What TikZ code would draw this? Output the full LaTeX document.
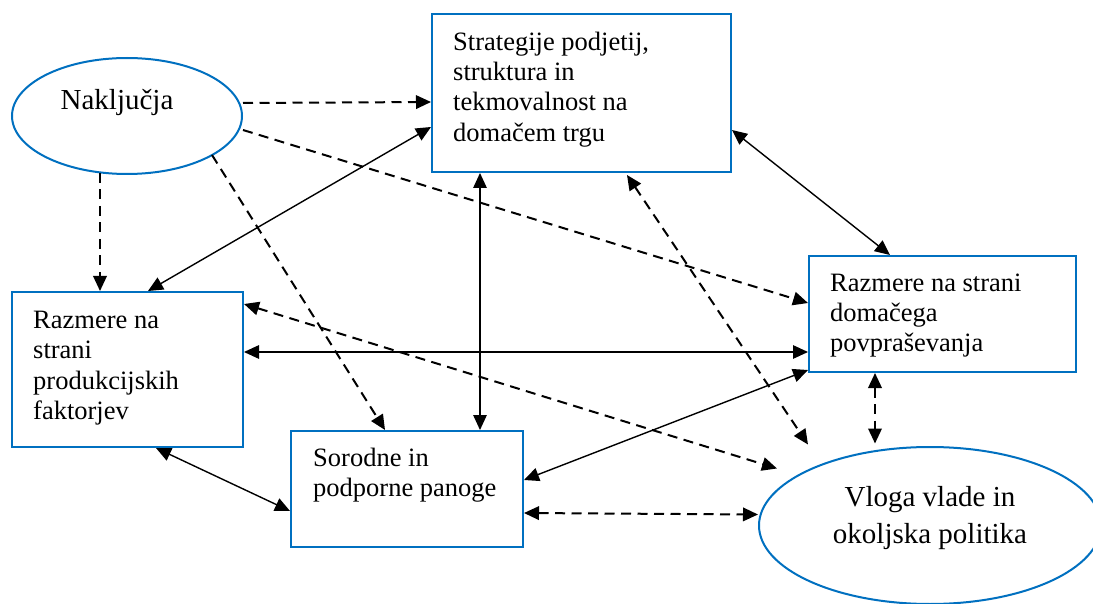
\documentclass[tikz,border=0pt]{standalone}
\usepackage{fontspec}
\setmainfont{Liberation Serif}
\usetikzlibrary{arrows.meta,shapes.geometric,calc}
\definecolor{boxblue}{HTML}{0070C0}
\begin{document}
\begin{tikzpicture}[x=1pt,y=-1pt,
  >={Triangle[length=15pt,width=13.5pt]},
  box/.style={draw=boxblue,line width=2pt,rectangle,inner sep=0pt},
  oval/.style={draw=boxblue,line width=2pt,ellipse,inner sep=0pt},
  txt/.style={inner sep=0pt,align=left,anchor=north west,font=\fontsize{26.5}{30.4}\selectfont},
  otxt/.style={inner sep=0pt,align=center,font=\fontsize{29}{37.3}\selectfont},
  sol/.style={draw=black,line width=1.4pt},
  dsh/.style={draw=black,line width=2pt,dash pattern=on 10pt off 6.5pt}
]
\useasboundingbox (0,0) rectangle (1093,604);
\clip (0,0) rectangle (1093,604);
\fill[white] (0,0) rectangle (1093,604);

% shapes
\node[oval,minimum width=230pt,minimum height=116pt] (nak) at (127,116) {};
\node[oval,minimum width=342pt,minimum height=157pt] (vlo) at (930,525.5) {};
\node[box,minimum width=299pt,minimum height=158pt] (strat) at (581.5,93) {};
\node[box,minimum width=267pt,minimum height=116pt] (dom) at (942.5,314) {};
\node[box,minimum width=231pt,minimum height=155pt] (prod) at (127.5,369.5) {};
\node[box,minimum width=232pt,minimum height=116pt] (sor) at (407,489) {};

% texts
\node[otxt,anchor=base] (nakT) at (117,110) {Naključja};
\node[otxt,anchor=north] (vloT) at (930,484) {\rule{0pt}{22pt}Vloga vlade in\\okoljska politika};
\node[txt] (stratT) at (453,30) {\rule{0pt}{20pt}Strategije podjetij,\\struktura in\\tekmovalnost na\\domačem trgu};
\node[txt] (domT) at (830,271) {\rule{0pt}{20pt}Razmere na strani\\domačega\\povpraševanja};
\node[txt] (prodT) at (33,308) {\rule{0pt}{20pt}Razmere na\\strani\\produkcijskih\\faktorjev};
\node[txt] (sorT) at (313,446) {\rule{0pt}{20pt}Sorodne in\\podporne panoge};

% free ends near the lower ellipse
\coordinate (vloA) at ($(vlo.center)+(-122,-81)$);
\coordinate (vloB) at ($(vlo.center)+(-153,-57)$);
\coordinate (vloC) at ($(vlo.center)+(-55,-82)$);

% dashed connectors from Naključja
\draw[dsh,->] ($(nak.east)+(0,-13)$) -- ($(strat.north west)+(0,89)$);
\draw[dsh,->] ($(nak.east)+(0,14)$) -- ($(dom.north west)+(0,48)$);
\draw[dsh,->] ($(nak.center)+(85,39)$) -- ($(sor.north west)+(95,0)$);
\draw[dsh,->] ($(nak.south)+(-27,-2)$) -- ($(prod.north west)+(89,0)$);

% solid double arrows
\draw[sol,<->] ($(prod.north west)+(137,0)$) -- ($(strat.north west)+(0,114)$);
\draw[sol,<->] ($(strat.south west)+(49,0)$) -- ($(sor.north west)+(190,0)$);
\draw[sol,<->] ($(strat.north east)+(0,117)$) -- ($(dom.north west)+(82,0)$);
\draw[sol,<->] ($(prod.north east)+(0,61)$) -- ($(dom.north west)+(0,97)$);
\draw[sol,<->] ($(prod.south west)+(145,0)$) -- ($(sor.north west)+(0,81)$);
\draw[sol,<->] ($(sor.north east)+(0,50)$) -- ($(dom.south west)+(0,-3)$);

% dashed double arrows
\draw[dsh,<->] ($(strat.south west)+(196,2)$) -- (vloA);
\draw[dsh,<->] ($(prod.north east)+(0,13)$) -- (vloB);
\draw[dsh,<->] ($(sor.north east)+(0,83)$) -- ($(vlo.west)+(0,-11)$);
\draw[dsh,<->] ($(dom.south west)+(67,0)$) -- (vloC);
\end{tikzpicture}
\end{document}
